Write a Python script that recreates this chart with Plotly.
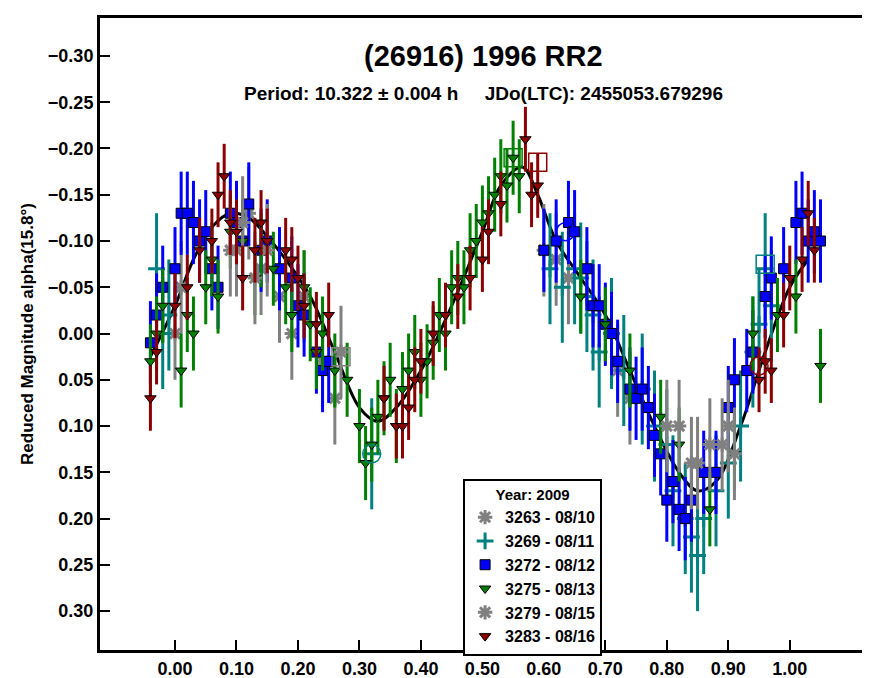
import plotly.graph_objects as go

# fitted Fourier curve (phase, reduced mag)
fit_phase = [-0.04, 0.0, 0.03, 0.06, 0.09, 0.12, 0.15, 0.18, 0.22, 0.26, 0.30, 0.33, 0.36, 0.40,
             0.45, 0.50, 0.53, 0.565, 0.59, 0.62, 0.66, 0.70, 0.74, 0.78, 0.82, 0.85, 0.88, 0.92,
             0.96, 1.00, 1.03]
fit_mag = [0.025, -0.03, -0.08, -0.115, -0.13, -0.125, -0.105, -0.08, -0.04, 0.02, 0.08, 0.095,
           0.08, 0.04, -0.03, -0.11, -0.16, -0.18, -0.15, -0.10, -0.06, -0.02, 0.04, 0.10, 0.15,
           0.17, 0.16, 0.10, 0.02, -0.05, -0.08]

s3263_x = [0.0, 0.01, 0.10, 0.12, 0.14, 0.17, 0.19, 0.21, 0.24, 0.26, 0.60, 0.62, 0.64, 0.72, 0.74]
s3263_y = [0.0, -0.05, -0.09, -0.13, -0.07, -0.04, 0.0, -0.04, 0.03, 0.07, -0.09, -0.08, -0.06, 0.04, 0.07]
s3263_err = 0.05

s3269_x = [-0.03, -0.02, -0.01, 0.32, 0.61, 0.63, 0.65, 0.66, 0.67, 0.68, 0.69, 0.71, 0.73, 0.76,
           0.78, 0.80, 0.81, 0.83, 0.84, 0.85, 0.86, 0.88, 0.90, 0.92, 0.94, 0.95, 0.96, 0.97]
s3269_y = [-0.07, 0.0, -0.02, 0.13, -0.07, -0.05, -0.07, -0.06, -0.04, -0.02, 0.02, 0.0, 0.04, 0.06,
           0.10, 0.12, 0.17, 0.20, 0.22, 0.24, 0.20, 0.17, 0.14, 0.10, 0.02, -0.01, -0.07, -0.03]
s3269_err = 0.06

s3272_x = [-0.04, -0.03, -0.02, 0.0, 0.01, 0.02, 0.03, 0.04, 0.05, 0.06, 0.07, 0.09, 0.10, 0.11,
           0.12, 0.14, 0.15, 0.17, 0.19, 0.20, 0.21, 0.23, 0.24, 0.25, 0.60, 0.62, 0.64, 0.65,
           0.67, 0.68, 0.69, 0.70, 0.71, 0.72, 0.74, 0.75, 0.76, 0.77, 0.78, 0.79, 0.80, 0.81,
           0.82, 0.83, 0.84, 0.86, 0.88, 0.90, 0.91, 0.93, 0.94, 0.96, 0.97, 0.99, 1.01, 1.02,
           1.03, 1.04, 1.05]
s3272_y = [0.01, -0.02, -0.05, -0.07, -0.13, -0.13, -0.12, -0.10, -0.11, -0.07, -0.05, -0.13,
           -0.12, -0.10, -0.14, -0.09, -0.10, -0.07, -0.06, -0.03, -0.02, 0.02, 0.04, 0.03,
           -0.09, -0.10, -0.12, -0.11, -0.07, -0.03, -0.03, -0.01, 0.0, 0.03, 0.06, 0.07, 0.06,
           0.08, 0.11, 0.13, 0.18, 0.16, 0.19, 0.20, 0.18, 0.15, 0.15, 0.08, 0.05, 0.04, 0.02,
           -0.04, -0.06, -0.07, -0.12, -0.13, -0.10, -0.11, -0.10]
s3272_err = 0.045

s3275_x = [-0.04, -0.03, -0.02, 0.01, 0.02, 0.03, 0.05, 0.06, 0.07, 0.09, 0.11, 0.13, 0.14, 0.16,
           0.18, 0.19, 0.21, 0.22, 0.23, 0.24, 0.26, 0.28, 0.30, 0.31, 0.32, 0.33, 0.34, 0.35,
           0.36, 0.37, 0.38, 0.39, 0.40, 0.41, 0.42, 0.43, 0.44, 0.45, 0.46, 0.47, 0.48, 0.49,
           0.50, 0.51, 0.52, 0.53, 0.54, 0.55, 0.56, 0.66, 0.70, 0.74, 0.79, 0.82, 0.87, 0.91,
           0.94, 0.98, 1.01, 1.05]
s3275_y = [0.03, 0.0, -0.03, 0.04, -0.02, 0.0, -0.05, -0.08, -0.04, -0.11, -0.10, -0.06, -0.09,
           -0.07, -0.05, -0.02, -0.05, -0.01, 0.02, 0.0, 0.04, 0.05, 0.10, 0.14, 0.12, 0.09,
           0.07, 0.05, 0.10, 0.06, 0.04, 0.02, 0.05, 0.03, 0.01, -0.02, 0.0, -0.05, -0.06,
           -0.05, -0.09, -0.10, -0.12, -0.13, -0.15, -0.17, -0.16, -0.19, -0.17, -0.04, -0.01,
           0.04, 0.09, 0.12, 0.19, 0.13, 0.0, -0.02, -0.04, 0.035]
s3275_err = 0.04

s3279_x = [0.09, 0.11, 0.13, 0.15, 0.27, 0.80, 0.82, 0.84, 0.85, 0.87, 0.89, 0.90, 0.91]
s3279_y = [-0.09, -0.12, -0.06, -0.09, 0.02, 0.10, 0.10, 0.14, 0.14, 0.12, 0.12, 0.10, 0.13]
s3279_err = 0.05

s3283_x = [-0.04, -0.03, 0.0, 0.02, 0.04, 0.06, 0.07, 0.08, 0.09, 0.10, 0.11, 0.13, 0.14, 0.15,
           0.18, 0.19, 0.20, 0.21, 0.23, 0.25, 0.34, 0.36, 0.37, 0.38, 0.39, 0.40, 0.42, 0.44,
           0.46, 0.48, 0.50, 0.51, 0.53, 0.57, 0.58, 0.59, 0.95, 0.96, 0.97, 0.99, 1.00, 1.02,
           1.03, 1.04]
s3283_y = [0.07, 0.02, -0.03, -0.05, -0.09, -0.10, -0.15, -0.17, -0.12, -0.11, -0.06, -0.09,
           -0.12, -0.10, -0.09, -0.08, -0.06, -0.03, -0.01, -0.02, 0.07, 0.10, 0.10, 0.08, 0.05,
           0.03, 0.0, -0.02, -0.04, -0.06, -0.08, -0.11, -0.14, -0.21, -0.15, -0.16, 0.05, 0.03,
           0.04, -0.02, -0.06, -0.08, -0.13, -0.09]
s3283_err = 0.035

# first point of each session, drawn as open markers
start_x = [0.27, 0.32, 0.55, 0.59, 0.635, 0.95, 0.96]
start_y = [0.025, 0.13, -0.19, -0.185, -0.11, 0.035, -0.075]
start_sym = ["square-open", "circle-open", "square-open", "square-open", "circle-open", "circle-open", "square-open"]
start_col = ["gray", "teal", "green", "darkred", "blue", "darkred", "teal"]

series = [
    ("3263 - 08/10", s3263_x, s3263_y, s3263_err, "gray", "asterisk-open"),
    ("3269 - 08/11", s3269_x, s3269_y, s3269_err, "teal", "cross-thin-open"),
    ("3272 - 08/12", s3272_x, s3272_y, s3272_err, "blue", "square"),
    ("3275 - 08/13", s3275_x, s3275_y, s3275_err, "green", "triangle-down"),
    ("3279 - 08/15", s3279_x, s3279_y, s3279_err, "gray", "asterisk-open"),
    ("3283 - 08/16", s3283_x, s3283_y, s3283_err, "darkred", "triangle-down"),
]

fig = go.Figure()
fig.add_trace(go.Scatter(x=fit_phase, y=fit_mag, mode="lines", line=dict(color="black", width=3, shape="spline"),
                         showlegend=False))
for name, xs, ys, err, col, sym in series:
    open_sym = sym.endswith("open")
    fig.add_trace(go.Scatter(
        x=xs, y=ys, mode="markers", name=name,
        error_y=dict(type="constant", value=err, color=col, thickness=3, width=0),
        marker=dict(symbol=sym, color=col, size=12 if open_sym else 10,
                    line=dict(color=col if open_sym else "black", width=3 if open_sym else 1)),
    ))
fig.add_trace(go.Scatter(x=start_x, y=start_y, mode="markers", showlegend=False,
                         marker=dict(symbol=start_sym, size=18, color=start_col,
                                     line=dict(color=start_col, width=1.5))))

fig.add_annotation(text="<b>(26916) 1996 RR2</b>", xref="paper", yref="paper", x=0.5, y=0.968,
                   showarrow=False, font=dict(size=29, color="black"))
fig.add_annotation(text="<b>Period: 10.322 ± 0.004 h     JDo(LTC): 2455053.679296</b>", xref="paper",
                   yref="paper", x=0.5, y=0.9, showarrow=False, font=dict(size=19, color="black"))

axis_common = dict(showline=True, linecolor="black", linewidth=3, mirror=True, ticks="inside",
                   ticklen=10, tickcolor="black", tickwidth=1.5, showgrid=False, zeroline=False,
                   tickfont=dict(size=18, color="black", weight="bold"))
fig.update_xaxes(range=[-0.122, 1.124], tickvals=[i / 10 for i in range(11)], tickformat=".2f",
                 **axis_common)
fig.update_yaxes(range=[0.342, -0.341], tickvals=[-0.30, -0.25, -0.20, -0.15, -0.10, -0.05, 0.0, 0.05,
                                                   0.10, 0.15, 0.20, 0.25, 0.30], tickformat=".2f",
                 title=dict(text="<b>Reduced Magnitude alpha(15.8°)</b>", font=dict(size=17, color="black"),
                            standoff=10), **axis_common)

fig.update_layout(
    width=870, height=678,
    margin=dict(l=92, r=12, t=7, b=29),
    plot_bgcolor="white", paper_bgcolor="white",
    font=dict(family="Liberation Sans, Arial", color="black"),
    legend=dict(x=0.474, y=0.271, xanchor="left", yanchor="top", bgcolor="white",
                bordercolor="black", borderwidth=2, tracegroupgap=0, itemwidth=30,
                title=dict(text="<b>Year: 2009</b>", font=dict(size=15), side="top center"),
                font=dict(size=16, weight="bold")),
)

fig.write_html("out.html")
